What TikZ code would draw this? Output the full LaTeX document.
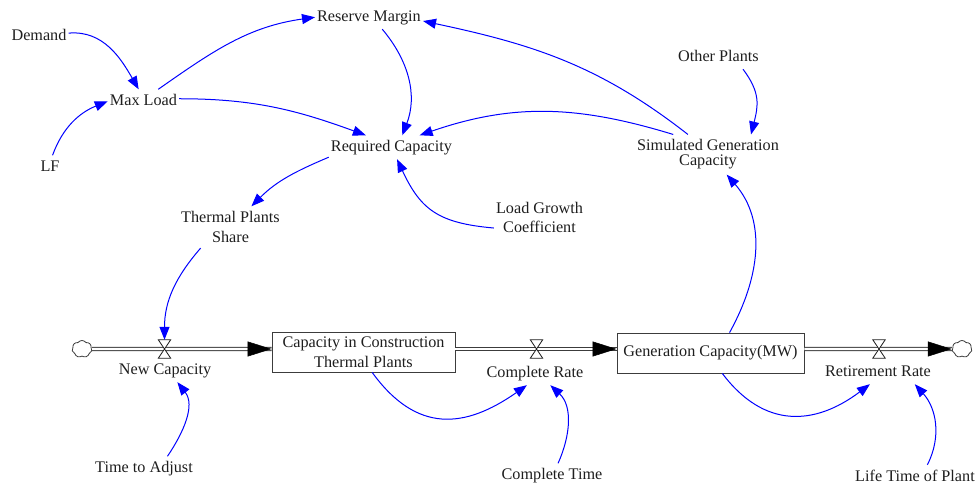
\documentclass[tikz,border=0pt]{standalone}
\usepackage{fontspec}
\setmainfont{Liberation Serif}
\usetikzlibrary{arrows.meta,shapes.symbols,calc}
\definecolor{linkblue}{RGB}{0,0,255}
\definecolor{ink}{RGB}{30,30,30}
\definecolor{pipegray}{RGB}{60,60,60}

\begin{document}
\begin{tikzpicture}[x=1pt,y=1pt,
  every node/.style={font=\fontsize{16.2}{19.4}\selectfont, text=ink},
  var/.style={inner xsep=2pt, inner ysep=5pt, text height=11.5pt, text depth=2pt},
  var2/.style={inner xsep=2pt, inner ysep=5pt, align=center},
  stock/.style={draw=pipegray, line width=0.9pt, fill=white, align=center, inner sep=0pt,
                font=\fontsize{16.2}{20}\selectfont},
  valve/.style={inner sep=0pt, minimum width=12pt, minimum height=18pt},
  valveline/.style={draw=ink, line width=0.8pt, fill=white, line join=miter},
  cloudnode/.style={cloud, cloud puffs=7, cloud puff arc=110, aspect=1.2, draw=pipegray,
                    line width=0.8pt, fill=white, minimum width=20pt, minimum height=17pt, inner sep=0pt},
  link/.style={draw=linkblue, line width=1pt, -{Triangle[length=13pt,width=10pt]}},
  pipe/.style={draw=pipegray, line width=1pt, double=white, double distance=2.2pt},
  flowtip/.style={-{Triangle[length=24pt,width=15pt]}, draw=black, line width=0.5pt}
]
\useasboundingbox (0,0) rectangle (975,484);

% auxiliary variables
\node[var] (demand)   at (39,447.75)  {Demand};
\node[var] (maxload)  at (143.5,382.75) {Max Load};
\node[var] (lf)       at (50,316.75)  {LF};
\node[var] (reserve)  at (369,466.75) {Reserve Margin};
\node[var] (required) at (391.5,336.75) {Required Capacity};
\node[var] (other)    at (718.5,426.75) {Other Plants};
\node[var2, font=\fontsize{16.2}{15}\selectfont] (simgen) at (708,329.45) {Simulated Generation\\Capacity};
\node[var2, font=\fontsize{16.2}{20}\selectfont] (thermal) at (230.5,256.8) {Thermal Plants\\Share};
\node[var2, font=\fontsize{16.2}{19.4}\selectfont] (loadgrowth) at (539.5,266.5) {Load Growth\\Coefficient};
\node[var] (timeadj)  at (144,15.75)  {Time to Adjust};
\node[var] (comptime) at (552,8.75)   {Complete Time};
\node[var] (lifetime) at (915,7.25)   {Life Time of Plant};

% stocks
\node[stock, minimum width=183pt, minimum height=40pt] (stock1) at (363.5,132) {Capacity in Construction\\Thermal Plants};
\node[stock, minimum width=187pt, minimum height=40pt] (stock2) at (710.5,131) {Generation Capacity(MW)};

% sources and sinks
\node[cloudnode] (cloud1) at (82,135) {};
\node[cloudnode] (cloud2) at (962,135) {};

% valves and rate labels
\node[valve] (valve1) at (164.5,135) {};
\node[valve] (valve2) at (536.5,135) {};
\node[valve] (valve3) at (879,135) {};
\node[var] (newcap)   at (165,113.75) {New Capacity};
\node[var] (comprate) at (535,110.75) {Complete Rate};
\node[var] (retire)   at (878,111.75) {Retirement Rate};

% flow pipes
\draw[pipe] (cloud1.east) -- (valve1 -| stock1.west);
\draw[pipe] (valve2 -| stock1.east) -- (valve2 -| stock2.west);
\draw[pipe] (valve3 -| stock2.east) -- (cloud2.west);
\draw[flowtip] ($(valve1 -| stock1.west)+(-24,0)$) -- (valve1 -| stock1.west);
\draw[flowtip] ($(valve2 -| stock2.west)+(-24,0)$) -- (valve2 -| stock2.west);
\draw[flowtip] ($(cloud2.west)+(-24,0)$) -- (cloud2.west);
\foreach \v in {valve1,valve2,valve3}
  \draw[valveline] (\v.north west) -- (\v.north east) -- (\v.south west) -- (\v.south east) -- cycle;

% causal links
\draw[link] (demand.6) to[out=5,in=120] (maxload.112);
\draw[link] (lf.78) to[out=70,in=202] (maxload.west);
\draw[link] (maxload.39) to[out=35,in=188] (reserve.west);
\draw[link] (maxload.4) to[out=0,in=160] (required.155);
\draw[link] (reserve.-42) to[out=-50,in=69] (required.48);
\draw[link] (simgen.150) to[out=163,in=19] (required.23);
\draw[link] (simgen.135) to[out=142,in=-12] (reserve.-4);
\draw[link] (other.-26) to[out=-53,in=76,looseness=1.15] (simgen.25);
\draw[link] (required.189) to[out=203,in=45] (thermal.45);
\draw[link] (loadgrowth.193) to[out=175,in=-65,looseness=1.2] (required.-65);
\draw[link] (thermal.215) to[out=229,in=90] (valve1.north);
\draw[link] (timeadj.27) to[out=56,in=-52] (newcap.-44);
\draw[link] (stock1.-67) to[out=-54,in=215,looseness=1.25] (comprate.236);
\draw[link] (comptime.63) to[out=66,in=-43] (comprate.-38);
\draw[link] (stock2.47) to[out=61,in=-49] (simgen.-47);
\draw[link] (stock2.-60) to[out=-53,in=217,looseness=1.2] (retire.236);
\draw[link] (lifetime.44) to[out=63,in=-48] (retire.-18);
\end{tikzpicture}
\end{document}
